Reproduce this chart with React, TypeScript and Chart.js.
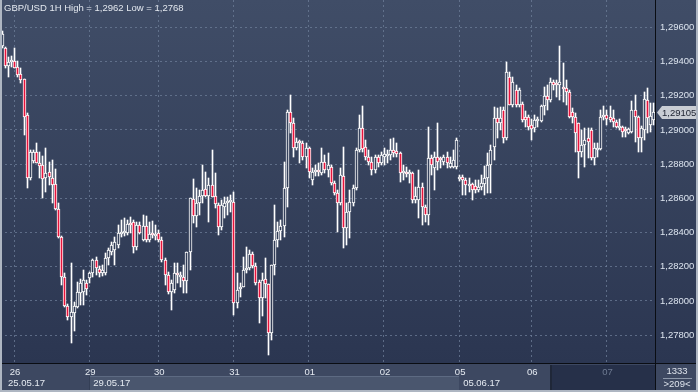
import React, { useEffect, useRef } from 'react';
import { Chart, registerables } from 'chart.js';

Chart.register(...registerables);

const W = 698;
const H = 392;
const FONT = "'Liberation Sans', Arial, sans-serif";

const title = 'GBP/USD 1H High = 1,2962 Low = 1,2768';

const opens = [
  1.29491, 1.29480, 1.29374, 1.29398, 1.29404, 1.29368, 1.29327, 1.29298, 1.29088, 1.28719,
  1.28819, 1.28871, 1.28807, 1.28795, 1.28719, 1.28754, 1.28719, 1.28684, 1.28538, 1.28374,
  1.28140, 1.27971, 1.27906, 1.27930, 1.27965, 1.28047, 1.28053, 1.28105, 1.28135, 1.28164,
  1.28240, 1.28187, 1.28164, 1.28164, 1.28251, 1.28287, 1.28298, 1.28327, 1.28392, 1.28398,
  1.28398, 1.28456, 1.28462, 1.28316, 1.28444, 1.28357, 1.28439, 1.28357, 1.28398, 1.28380,
  1.28398, 1.28357, 1.28240, 1.28152, 1.28053, 1.28064, 1.28164, 1.28140, 1.28140, 1.28117,
  1.28287, 1.28596, 1.28497, 1.28573, 1.28614, 1.28655, 1.28614, 1.28678, 1.28614, 1.28561,
  1.28433, 1.28550, 1.28573, 1.28579, 1.28579, 1.27988, 1.28070, 1.28082, 1.28181, 1.28193,
  1.28275, 1.28205, 1.28111, 1.28018, 1.28129, 1.28099, 1.27813, 1.28211, 1.28357, 1.28409,
  1.28439, 1.28661, 1.29105, 1.29041, 1.28895, 1.28936, 1.28924, 1.28842, 1.28895, 1.28708,
  1.28754, 1.28766, 1.28749, 1.28813, 1.28766, 1.28784, 1.28690, 1.28632, 1.28573, 1.28731,
  1.28427, 1.28520, 1.28573, 1.28661, 1.28883, 1.29012, 1.28901, 1.28842, 1.28813, 1.28766,
  1.28842, 1.28807, 1.28842, 1.28848, 1.28854, 1.28883, 1.28877, 1.28865, 1.28749, 1.28754,
  1.28743, 1.28749, 1.28591, 1.28591, 1.28667, 1.28550, 1.28503, 1.28836, 1.28778, 1.28842,
  1.28836, 1.28813, 1.28842, 1.28784, 1.28784, 1.28784, 1.28713, 1.28725, 1.28708, 1.28673,
  1.28684, 1.28673, 1.28649, 1.28667, 1.28684, 1.28719, 1.28795, 1.28901, 1.29070, 1.29041,
  1.29117, 1.28953, 1.29310, 1.29146, 1.29234, 1.29146, 1.29152, 1.29076, 1.29076, 1.29029,
  1.29012, 1.29053, 1.29053, 1.29140, 1.29199, 1.29175, 1.29281, 1.29275, 1.29263, 1.29251,
  1.29246, 1.29222, 1.29105, 1.29076, 1.29041, 1.28871, 1.28912, 1.28953, 1.29000, 1.28836,
  1.28883, 1.28889, 1.29076, 1.29088, 1.29076, 1.29070, 1.29047, 1.29012, 1.29018, 1.29006,
  1.28982, 1.28988, 1.29117, 1.29076, 1.28953, 1.29000, 1.29175, 1.29029, 1.29058,
];

const highs = [
  1.29579, 1.29485, 1.29427, 1.29433, 1.29480, 1.29404, 1.29363, 1.29298, 1.29099, 1.28883,
  1.28883, 1.28924, 1.28871, 1.28848, 1.28895, 1.28813, 1.28825, 1.28772, 1.28573, 1.28380,
  1.28164, 1.27982, 1.28222, 1.27994, 1.28111, 1.28129, 1.28181, 1.28123, 1.28170, 1.28246,
  1.28257, 1.28205, 1.28211, 1.28281, 1.28310, 1.28345, 1.28374, 1.28444, 1.28474, 1.28485,
  1.28474, 1.28491, 1.28474, 1.28462, 1.28462, 1.28503, 1.28497, 1.28462, 1.28468, 1.28444,
  1.28415, 1.28374, 1.28251, 1.28170, 1.28123, 1.28222, 1.28222, 1.28170, 1.28211, 1.28287,
  1.28602, 1.28713, 1.28661, 1.28649, 1.28795, 1.28754, 1.28719, 1.28883, 1.28749, 1.28573,
  1.28591, 1.28608, 1.28608, 1.28620, 1.28637, 1.28164, 1.28105, 1.28257, 1.28316, 1.28298,
  1.28287, 1.28222, 1.28123, 1.28164, 1.28251, 1.28099, 1.28211, 1.28561, 1.28462, 1.28474,
  1.28813, 1.29117, 1.29205, 1.29070, 1.28953, 1.28942, 1.28936, 1.28924, 1.28901, 1.28778,
  1.28795, 1.28807, 1.28895, 1.28854, 1.28865, 1.28795, 1.28702, 1.28649, 1.28778, 1.28901,
  1.28573, 1.28649, 1.28678, 1.28895, 1.29088, 1.29140, 1.28942, 1.28883, 1.28842, 1.28854,
  1.28854, 1.28871, 1.28895, 1.28883, 1.28947, 1.28953, 1.28924, 1.28871, 1.28795, 1.28784,
  1.28766, 1.28754, 1.28667, 1.28766, 1.28690, 1.28561, 1.29018, 1.28854, 1.28871, 1.29041,
  1.28842, 1.28854, 1.28871, 1.28842, 1.28883, 1.28953, 1.28737, 1.28737, 1.28719, 1.28719,
  1.28690, 1.28708, 1.28708, 1.28737, 1.28789, 1.28865, 1.28912, 1.29135, 1.29129, 1.29135,
  1.29135, 1.29398, 1.29339, 1.29310, 1.29263, 1.29246, 1.29164, 1.29111, 1.29088, 1.29064,
  1.29088, 1.29076, 1.29146, 1.29251, 1.29263, 1.29304, 1.29292, 1.29292, 1.29491, 1.29392,
  1.29292, 1.29234, 1.29129, 1.29099, 1.29041, 1.29000, 1.29012, 1.29012, 1.29012, 1.28924,
  1.28924, 1.29117, 1.29140, 1.29117, 1.29140, 1.29117, 1.29058, 1.29064, 1.29023, 1.29018,
  1.29012, 1.29170, 1.29205, 1.29082, 1.29023, 1.29222, 1.29246, 1.29158, 1.29158,
];

const lows = [
  1.29480, 1.29363, 1.29310, 1.29368, 1.29363, 1.29310, 1.29275, 1.28971, 1.28661, 1.28708,
  1.28807, 1.28807, 1.28719, 1.28602, 1.28637, 1.28678, 1.28573, 1.28532, 1.28368, 1.28094,
  1.27965, 1.27889, 1.27754, 1.27825, 1.27959, 1.27977, 1.27977, 1.28035, 1.28105, 1.28140,
  1.28152, 1.28140, 1.28146, 1.28152, 1.28211, 1.28269, 1.28211, 1.28310, 1.28374, 1.28380,
  1.28386, 1.28398, 1.28281, 1.28298, 1.28392, 1.28351, 1.28345, 1.28345, 1.28368, 1.28357,
  1.28345, 1.28228, 1.28094, 1.28041, 1.27947, 1.28047, 1.28105, 1.28082, 1.28047, 1.28047,
  1.28181, 1.28456, 1.28433, 1.28503, 1.28573, 1.28608, 1.28462, 1.28608, 1.28544, 1.28386,
  1.28415, 1.28485, 1.28503, 1.28520, 1.27918, 1.27959, 1.28023, 1.28082, 1.28164, 1.28181,
  1.28193, 1.28094, 1.27871, 1.27912, 1.28018, 1.27684, 1.27772, 1.28152, 1.28316, 1.28357,
  1.28374, 1.28550, 1.28982, 1.28842, 1.28883, 1.28807, 1.28825, 1.28778, 1.28719, 1.28678,
  1.28731, 1.28731, 1.28737, 1.28749, 1.28725, 1.28678, 1.28620, 1.28404, 1.28561, 1.28310,
  1.28327, 1.28368, 1.28556, 1.28649, 1.28871, 1.28871, 1.28825, 1.28795, 1.28737, 1.28749,
  1.28784, 1.28795, 1.28795, 1.28807, 1.28825, 1.28842, 1.28842, 1.28696, 1.28708, 1.28725,
  1.28690, 1.28573, 1.28573, 1.28485, 1.28444, 1.28462, 1.28444, 1.28737, 1.28649, 1.28766,
  1.28778, 1.28795, 1.28778, 1.28778, 1.28778, 1.28772, 1.28702, 1.28620, 1.28620, 1.28637,
  1.28591, 1.28632, 1.28637, 1.28649, 1.28620, 1.28632, 1.28632, 1.28825, 1.28953, 1.29000,
  1.28924, 1.28942, 1.29146, 1.29135, 1.29135, 1.29135, 1.29047, 1.29018, 1.29000, 1.28942,
  1.28988, 1.29018, 1.29047, 1.29088, 1.29117, 1.29164, 1.29234, 1.29193, 1.29175, 1.29164,
  1.29146, 1.29070, 1.29041, 1.28871, 1.28719, 1.28842, 1.28784, 1.28836, 1.28825, 1.28795,
  1.28842, 1.28883, 1.29058, 1.29029, 1.29047, 1.29018, 1.29012, 1.29000, 1.28959, 1.28959,
  1.28977, 1.28982, 1.28930, 1.28871, 1.28871, 1.28942, 1.28982, 1.28988, 1.29029,
];

const closes = [
  1.29561, 1.29374, 1.29398, 1.29409, 1.29363, 1.29322, 1.29292, 1.29076, 1.28719, 1.28871,
  1.28871, 1.28807, 1.28789, 1.28713, 1.28749, 1.28725, 1.28678, 1.28538, 1.28374, 1.28140,
  1.27971, 1.27906, 1.27936, 1.27971, 1.28053, 1.28105, 1.28123, 1.28070, 1.28164, 1.28240,
  1.28193, 1.28164, 1.28181, 1.28251, 1.28298, 1.28327, 1.28345, 1.28398, 1.28404, 1.28404,
  1.28450, 1.28444, 1.28316, 1.28444, 1.28398, 1.28439, 1.28357, 1.28392, 1.28386, 1.28392,
  1.28357, 1.28240, 1.28152, 1.28053, 1.28105, 1.28164, 1.28152, 1.28152, 1.28117, 1.28287,
  1.28602, 1.28497, 1.28573, 1.28614, 1.28649, 1.28614, 1.28678, 1.28608, 1.28567, 1.28433,
  1.28561, 1.28573, 1.28579, 1.28585, 1.27988, 1.28064, 1.28082, 1.28181, 1.28193, 1.28275,
  1.28205, 1.28105, 1.28018, 1.28123, 1.28099, 1.27813, 1.28211, 1.28357, 1.28409, 1.28439,
  1.28661, 1.29105, 1.29041, 1.28895, 1.28930, 1.28924, 1.28842, 1.28895, 1.28754, 1.28754,
  1.28766, 1.28754, 1.28813, 1.28766, 1.28795, 1.28690, 1.28632, 1.28573, 1.28737, 1.28427,
  1.28520, 1.28579, 1.28661, 1.28883, 1.29012, 1.28889, 1.28842, 1.28813, 1.28766, 1.28842,
  1.28807, 1.28854, 1.28860, 1.28860, 1.28883, 1.28865, 1.28860, 1.28749, 1.28760, 1.28743,
  1.28754, 1.28591, 1.28614, 1.28667, 1.28550, 1.28503, 1.28836, 1.28795, 1.28842, 1.28813,
  1.28825, 1.28842, 1.28807, 1.28807, 1.28825, 1.28942, 1.28725, 1.28708, 1.28678, 1.28684,
  1.28649, 1.28649, 1.28667, 1.28690, 1.28719, 1.28795, 1.28883, 1.29070, 1.29041, 1.29070,
  1.28953, 1.29339, 1.29146, 1.29281, 1.29146, 1.29234, 1.29058, 1.29058, 1.29018, 1.29006,
  1.29058, 1.29058, 1.29140, 1.29199, 1.29175, 1.29281, 1.29263, 1.29263, 1.29281, 1.29240,
  1.29222, 1.29076, 1.29076, 1.28982, 1.28871, 1.28912, 1.28942, 1.28930, 1.28836, 1.28895,
  1.28895, 1.29076, 1.29088, 1.29064, 1.29058, 1.29047, 1.29018, 1.29023, 1.28988, 1.28994,
  1.29006, 1.29117, 1.29076, 1.28953, 1.29012, 1.29181, 1.29070, 1.29082, 1.29105,
];

// bar index where each trading day starts, and its label
const dayStarts = [4, 28, 50, 74, 98, 122, 146, 169, 193];
const dayLabels = ['26', '29', '30', '31', '01', '02', '05', '06', '07'];
// bar index where each week starts, and its label
const weekStarts = [0, 28, 146];
const weekLabels = ['25.05.17', '29.05.17', '05.06.17'];

const yTicks = [1.278, 1.28, 1.282, 1.284, 1.286, 1.288, 1.29, 1.292, 1.294, 1.296];
const Y_MIN = 1.27637;
const Y_MAX = 1.2976;

const cornerTop = '1333';
const cornerBottom = '>209<';

const labels = opens.map((_, i) => 'H' + i);

const RED = '#e6143c';
const GRID = 'rgba(110,126,152,0.75)';
const fmt = (v: number) => v.toFixed(5).replace('.', ',');

export default function App() {
  const ref = useRef<HTMLCanvasElement>(null);

  useEffect(() => {
    document.body.style.margin = '0';
    const canvas = ref.current!;
    const g = canvas.getContext('2d')!;
    const bgGrad = g.createLinearGradient(0, 0, 0, 363);
    bgGrad.addColorStop(0, '#404d67');
    bgGrad.addColorStop(1, '#2b3651');

    const snapPlugin = {
      id: 'snap',
      afterDatasetsUpdate(chart: any) {
        chart.data.datasets.forEach((_: any, di: number) => {
          const meta = chart.getDatasetMeta(di);
          meta.data.forEach((el: any) => {
            el.x = Math.round(el.x) + 0.5;
            el.y = Math.round(el.y);
            el.base = Math.round(el.base);
          });
        });
      },
    };

    const decoPlugin = {
      id: 'deco',
      beforeDraw(chart: any) {
        const ctx = chart.ctx;
        ctx.save();
        ctx.fillStyle = bgGrad;
        ctx.fillRect(0, 0, W, chart.chartArea.bottom);
        ctx.restore();
      },
      afterDraw(chart: any) {
        const ctx = chart.ctx as CanvasRenderingContext2D;
        const xs = chart.scales.x;
        const ys = chart.scales.y;
        const area = chart.chartArea;
        const bTop = area.bottom;
        ctx.save();
        // bottom band
        ctx.fillStyle = '#3d4861';
        ctx.fillRect(0, bTop, W, H - bTop);
        const xw1 = Math.round(xs.getPixelForValue(weekStarts[1]));
        const xw2 = Math.round(xs.getPixelForValue(weekStarts[2]));
        ctx.fillStyle = '#4a566e';
        ctx.fillRect(xw1, 377, xw2 - xw1, 13);
        ctx.fillStyle = '#5d6a82';
        ctx.fillRect(xw1, 376, xw2 - xw1, 1);
        ctx.fillStyle = '#343f56';
        ctx.fillRect(xw1, 376, 1, 14);
        // dark navigator box
        const navL = 552;
        ctx.fillStyle = '#263049';
        ctx.fillRect(navL, 365, area.right - navL, 25);
        ctx.fillStyle = '#1f2738';
        ctx.fillRect(navL - 2, 365, 2, 25);

        ctx.font = `9.5px ${FONT}`;
        ctx.textBaseline = 'middle';
        ctx.textAlign = 'center';
        dayStarts.forEach((d, k) => {
          const x = xs.getPixelForValue(d);
          ctx.fillStyle = x > navL ? '#6f7b92' : '#e6ebf2';
          ctx.fillText(dayLabels[k], x + 1, 372);
        });
        ctx.textAlign = 'left';
        ctx.fillStyle = '#e6ebf2';
        weekStarts.forEach((w, k) => {
          const x = k === 0 ? 8 : xs.getPixelForValue(w) + 4;
          ctx.fillText(weekLabels[k], x, 383.5);
        });

        // corner box
        ctx.textAlign = 'center';
        ctx.fillStyle = '#dde3ec';
        ctx.fillText(cornerTop, 677, 371.5);
        ctx.fillText(cornerBottom, 677, 384.5);
        ctx.fillStyle = '#8d98aa';
        ctx.fillRect(663, 378, 29, 1);

        // separator lines
        ctx.fillStyle = '#0a0d13';
        ctx.fillRect(0, bTop, W, 1);
        ctx.fillRect(area.right, 0, 1, H);

        // last price marker
        const last = closes[closes.length - 1];
        const yc = Math.round(ys.getPixelForValue(last)) + 0.5;
        ctx.fillStyle = '#c9cdd4';
        ctx.beginPath();
        ctx.moveTo(657, yc);
        ctx.lineTo(662, yc - 6.5);
        ctx.lineTo(696, yc - 6.5);
        ctx.lineTo(696, yc + 6.5);
        ctx.lineTo(662, yc + 6.5);
        ctx.closePath();
        ctx.fill();
        ctx.fillStyle = '#1c2130';
        ctx.textAlign = 'left';
        ctx.fillText(fmt(last), 662, yc + 0.5);

        // title
        ctx.fillStyle = '#e3e8ef';
        ctx.font = `9.5px ${FONT}`;
        ctx.fillText(title, 4, 8.5);

        // outer frame
        ctx.fillStyle = '#aeb6c2';
        ctx.fillRect(0, 0, 2, H);
        ctx.fillRect(0, H - 2, W, 2);
        ctx.fillRect(W - 2, 0, 2, H);
        ctx.restore();
      },
    };

    const chart = new Chart(canvas, {
      type: 'bar',
      data: {
        labels,
        datasets: [
          {
            label: 'wick',
            data: lows.map((l, i) => [l, highs[i]]) as any,
            backgroundColor: '#ffffff',
            borderWidth: 0,
            barThickness: 1,
            grouped: false,
            order: 2,
          } as any,
          {
            label: 'body',
            data: opens.map((o, i) => [o, closes[i]]) as any,
            backgroundColor: (c: any) =>
              closes[c.dataIndex] < opens[c.dataIndex] ? RED : bgGrad,
            borderColor: '#ffffff',
            borderWidth: 1,
            borderSkipped: false,
            barThickness: 3,
            minBarLength: 2,
            grouped: false,
            order: 1,
          } as any,
        ],
      },
      options: {
        responsive: false,
        animation: false,
        devicePixelRatio: 1,
        events: [],
        layout: { padding: 0 },
        plugins: {
          legend: { display: false },
          tooltip: { enabled: false },
        },
        scales: {
          x: {
            type: 'category',
            offset: true,
            grid: {
              offset: false,
              drawTicks: false,
              lineWidth: 1,
              color: (c: any) => (dayStarts.includes(c.index) ? GRID : 'rgba(0,0,0,0)'),
            },
            border: { display: false, dash: [2, 3] },
            ticks: { display: false, autoSkip: false },
            afterFit: (s: any) => {
              s.height = 29;
              s.paddingLeft = 0;
              s.paddingRight = 0;
            },
          },
          y: {
            position: 'right',
            min: Y_MIN,
            max: Y_MAX,
            grid: { drawTicks: false, color: GRID, lineWidth: 1 },
            border: { display: false, dash: [2, 3] },
            ticks: {
              color: '#dce4ef',
              font: { family: FONT, size: 9.5 },
              padding: 5,
              callback: (v: any) => fmt(Number(v)),
            },
            afterBuildTicks: (s: any) => {
              s.ticks = yTicks.map((v) => ({ value: v }));
            },
            afterFit: (s: any) => {
              s.width = 43;
              s.paddingTop = 0;
              s.paddingBottom = 0;
            },
          },
        },
      } as any,
      plugins: [snapPlugin, decoPlugin],
    });

    return () => chart.destroy();
  }, []);

  return (
    <div style={{ width: W, height: H }}>
      <canvas ref={ref} width={W} height={H} style={{ display: 'block', width: W, height: H }} />
    </div>
  );
}
